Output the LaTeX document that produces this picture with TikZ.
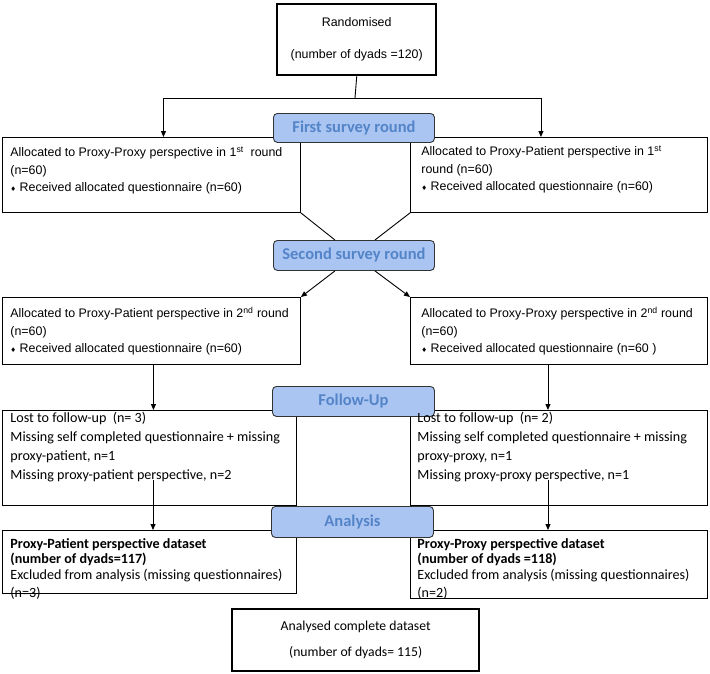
\documentclass[tikz,border=0pt]{standalone}
\usepackage{fontspec}
\setmainfont{Liberation Sans}
\newfontfamily\calfont{Carlito}
\newfontfamily\symfont{DejaVu Sans}
\usetikzlibrary{arrows.meta,positioning}
\definecolor{stagefill}{RGB}{170,197,242}
\definecolor{stagetext}{RGB}{84,132,200}
\newcommand{\dia}{{\symfont\fontsize{6.5}{6.5}\selectfont ♦}\ }

\begin{document}
\begin{tikzpicture}[x=1pt, y=-1pt, line width=0.9pt,
  box/.style={draw, anchor=north west, inner sep=0pt},
  thickbox/.style={draw, line width=2.4pt, anchor=north west, inner sep=0pt},
  arialtxt/.style={anchor=north west, inner sep=0pt, align=left, font=\fontsize{12.4}{17.5}\selectfont},
  calitxt/.style={anchor=north west, inner sep=0pt, align=left, font=\calfont\fontsize{14.1}{19}\selectfont},
  stage/.style={draw=black!80, fill=stagefill, rounded corners=4pt, anchor=north west, minimum width=161pt, minimum height=29pt, inner sep=0pt, font=\calfont\bfseries\fontsize{16.5}{16.5}\selectfont, text=stagetext},
  >={Triangle[length=6pt,width=5pt]}]
\useasboundingbox (0,0) rectangle (710,673);

% Boxes
\node[thickbox, minimum width=159pt, minimum height=71pt, align=center, font=\fontsize{12.4}{32}\selectfont] (rand) at (276,3) {Randomised\\(number of dyads =120)};
\node[box, minimum width=298pt, minimum height=75pt] (b1l) at (2,137) {};
\node[box, minimum width=297pt, minimum height=75pt] (b1r) at (410,137) {};
\node[box, minimum width=298pt, minimum height=67pt] (b2l) at (2,297) {};
\node[box, minimum width=297pt, minimum height=67pt] (b2r) at (410,297) {};
\node[box, minimum width=294pt, minimum height=95pt] (b3l) at (2,410) {};
\node[box, minimum width=297pt, minimum height=95pt] (b3r) at (410,410) {};
\node[box, minimum width=294pt, minimum height=63pt] (b4l) at (2,530) {};
\node[box, minimum width=297pt, minimum height=68pt] (b4r) at (410,530) {};
\node[thickbox, minimum width=247pt, minimum height=62pt, align=center, font=\calfont\fontsize{13.7}{26}\selectfont] (final) at (231,608) {Analysed complete dataset\\(number of dyads= 115)};

% Stages
\node[stage] (s1) at (273,113) {First survey round};
\node[stage, minimum height=30pt] (s2) at (273,240) {Second survey round};
\node[stage, minimum width=162pt, minimum height=30pt] (s3) at (272,386) {Follow-Up};
\node[stage, minimum width=162pt, minimum height=31pt] (s4) at (271,506) {Analysis};

% Box texts
\node[arialtxt] (t1l) at (10,146.5) {Allocated to Proxy-Proxy perspective in 1\textsuperscript{st}\ \ round\\(n=60)\\\dia Received allocated questionnaire (n=60)};
\node[arialtxt] (t1r) at (421,145.5) {Allocated to Proxy-Patient perspective in 1\textsuperscript{st}\\round (n=60)\\\dia Received allocated questionnaire (n=60)};
\node[arialtxt] (t2l) at (10,306.5) {Allocated to Proxy-Patient perspective in 2\textsuperscript{nd} round\\(n=60)\\\dia Received allocated questionnaire (n=60)};
\node[arialtxt] (t2r) at (421,306.5) {Allocated to Proxy-Proxy perspective in 2\textsuperscript{nd} round\\(n=60)\\\dia Received allocated questionnaire (n=60 )};
\node[calitxt] (t3l) at (10,412) {Lost to follow-up\ \ (n= 3)\\Missing self completed questionnaire + missing\\proxy-patient, n=1\\Missing proxy-patient perspective, n=2};
\node[calitxt] (t3r) at (417,412) {Lost to follow-up\ \ (n= 2)\\Missing self completed questionnaire + missing\\proxy-proxy, n=1\\Missing proxy-proxy perspective, n=1};
\node[calitxt, font=\calfont\fontsize{14.1}{15.5}\selectfont] (t4l) at (10,538) {\textbf{Proxy-Patient perspective dataset}\\\textbf{(number of dyads=117)}\\Excluded from analysis (missing questionnaires)\\[2.5pt](n=3)};
\node[calitxt, font=\calfont\fontsize{14.1}{15.5}\selectfont] (t4r) at (417,538) {\textbf{Proxy-Proxy perspective dataset}\\\textbf{(number of dyads =118)}\\Excluded from analysis (missing questionnaires)\\[2.5pt](n=2)};

% Connectors
\coordinate (split) at (355,98);
\coordinate (f3l) at (153,480);
\coordinate (f3r) at (548,480);
\draw (rand.south) -- (split);
\draw[->] (split) -| ([xshift=12pt]b1l.north);
\draw[->] (split) -| ([xshift=-18pt]b1r.north);
\draw (b1l.south east) -- ([xshift=-19pt]s2.north);
\draw (b1r.south west) -- ([xshift=21pt]s2.north);
\draw[->] ([xshift=-19pt]s2.south) -- (b2l.north east);
\draw[->] ([xshift=21pt]s2.south) -- (b2r.north west);
\draw[->] ([xshift=2pt]b2l.south) -- ([xshift=2pt]b2l.south |- b3l.north);
\draw[->] ([xshift=-11pt]b2r.south) -- ([xshift=-11pt]b2r.south |- b3r.north);
\draw[->] (f3l) -- (f3l |- b4l.north);
\draw[->] (f3r) -- (f3r |- b4r.north);
\end{tikzpicture}
\end{document}
